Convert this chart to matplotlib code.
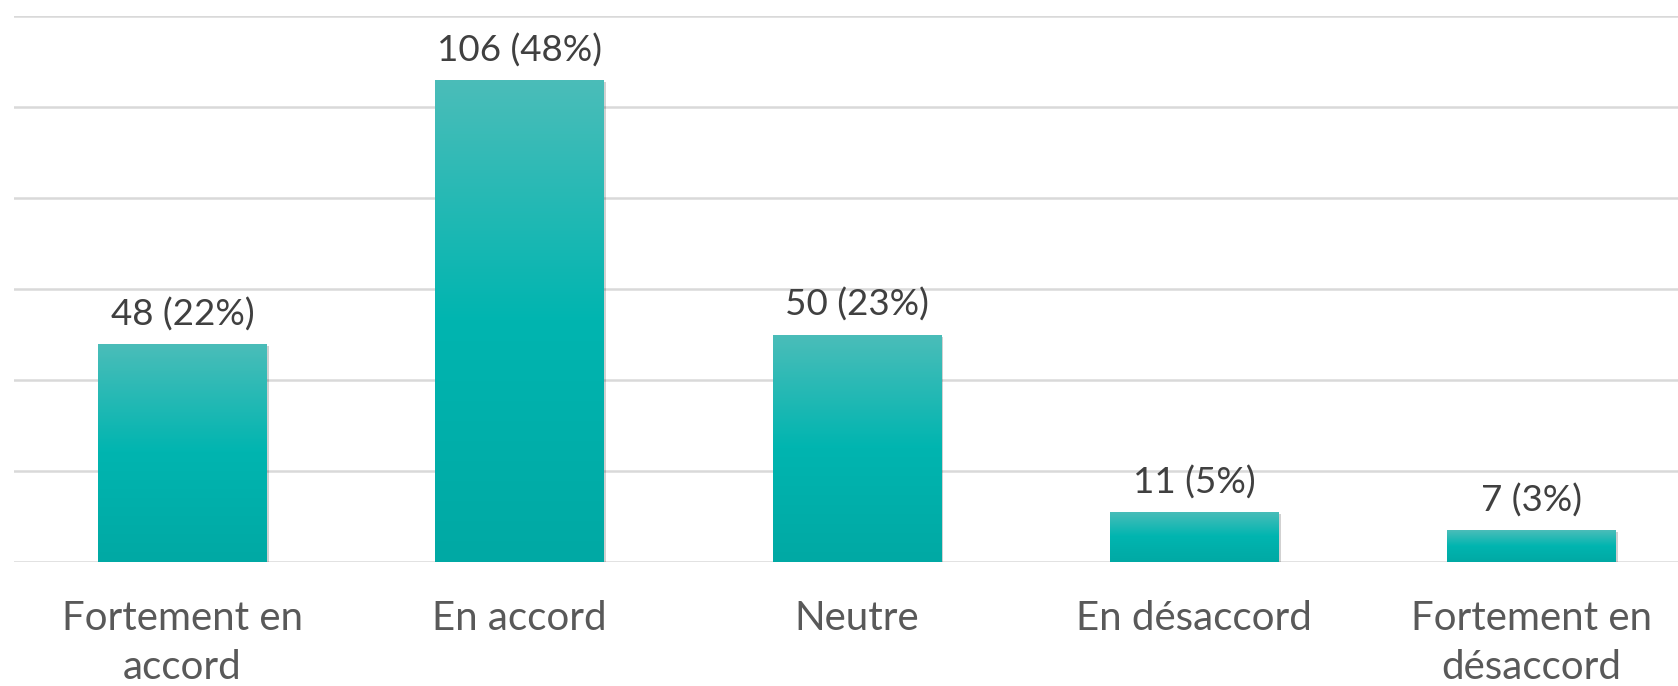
import matplotlib
matplotlib.use("Agg")
import matplotlib.pyplot as plt
import numpy as np
from matplotlib.colors import LinearSegmentedColormap
import matplotlib.patheffects as pe

categories = ["Fortement en\naccord", "En accord", "Neutre", "En désaccord", "Fortement en\ndésaccord"]
counts = [48, 106, 50, 11, 7]
percents = [22, 48, 23, 5, 3]
y_ticks = [0, 20, 40, 60, 80, 100, 120]

plt.rcParams['font.family'] = ['Lato', 'DejaVu Sans']

W, H = 1678, 686
fig = plt.figure(figsize=(W/100, H/100), dpi=100)
ax = fig.add_axes([14/W, 124/H, (W-14)/W, 546/H])

cmap = LinearSegmentedColormap.from_list("tealgrad", [(0.0, "#00A9A4"), (0.5, "#00B5B0"), (1.0, "#4BBDB9")])
grad = np.linspace(0, 1, 256).reshape(-1, 1)

x = np.arange(len(categories))
bars = ax.bar(x, counts, width=0.5, color="#00B5B0", zorder=3,
              path_effects=[pe.SimplePatchShadow(offset=(1.5, -1.5), shadow_rgbFace="#000000", alpha=0.18), pe.Normal()])
for rect in bars:
    x0, w, h = rect.get_x(), rect.get_width(), rect.get_height()
    im = ax.imshow(grad, extent=[x0, x0 + w, 0, h], origin='lower', aspect='auto', cmap=cmap, zorder=4)
    im.set_clip_path(rect)

for xi, c, p in zip(x, counts, percents):
    ax.annotate(f"{c} ({p}%)", (xi, c), xytext=(0, 9), textcoords='offset points',
                ha='center', va='bottom', fontsize=26.5, color="#404040", zorder=5)

ax.set_xlim(-0.5, 4.435)
ax.set_ylim(0, 120)
ax.set_yticks(y_ticks)
ax.yaxis.grid(True, color="#D9D9D9", linewidth=1.8, zorder=0)
ax.set_axisbelow(True)
ax.tick_params(axis='y', left=False, labelleft=False)
ax.tick_params(axis='x', bottom=False, pad=24)
ax.set_xticks(x)
ax.set_xticklabels(categories, fontsize=29, color="#595959", linespacing=1.4)
for s in ax.spines.values():
    s.set_visible(False)

fig.savefig("out.png", dpi=100)
